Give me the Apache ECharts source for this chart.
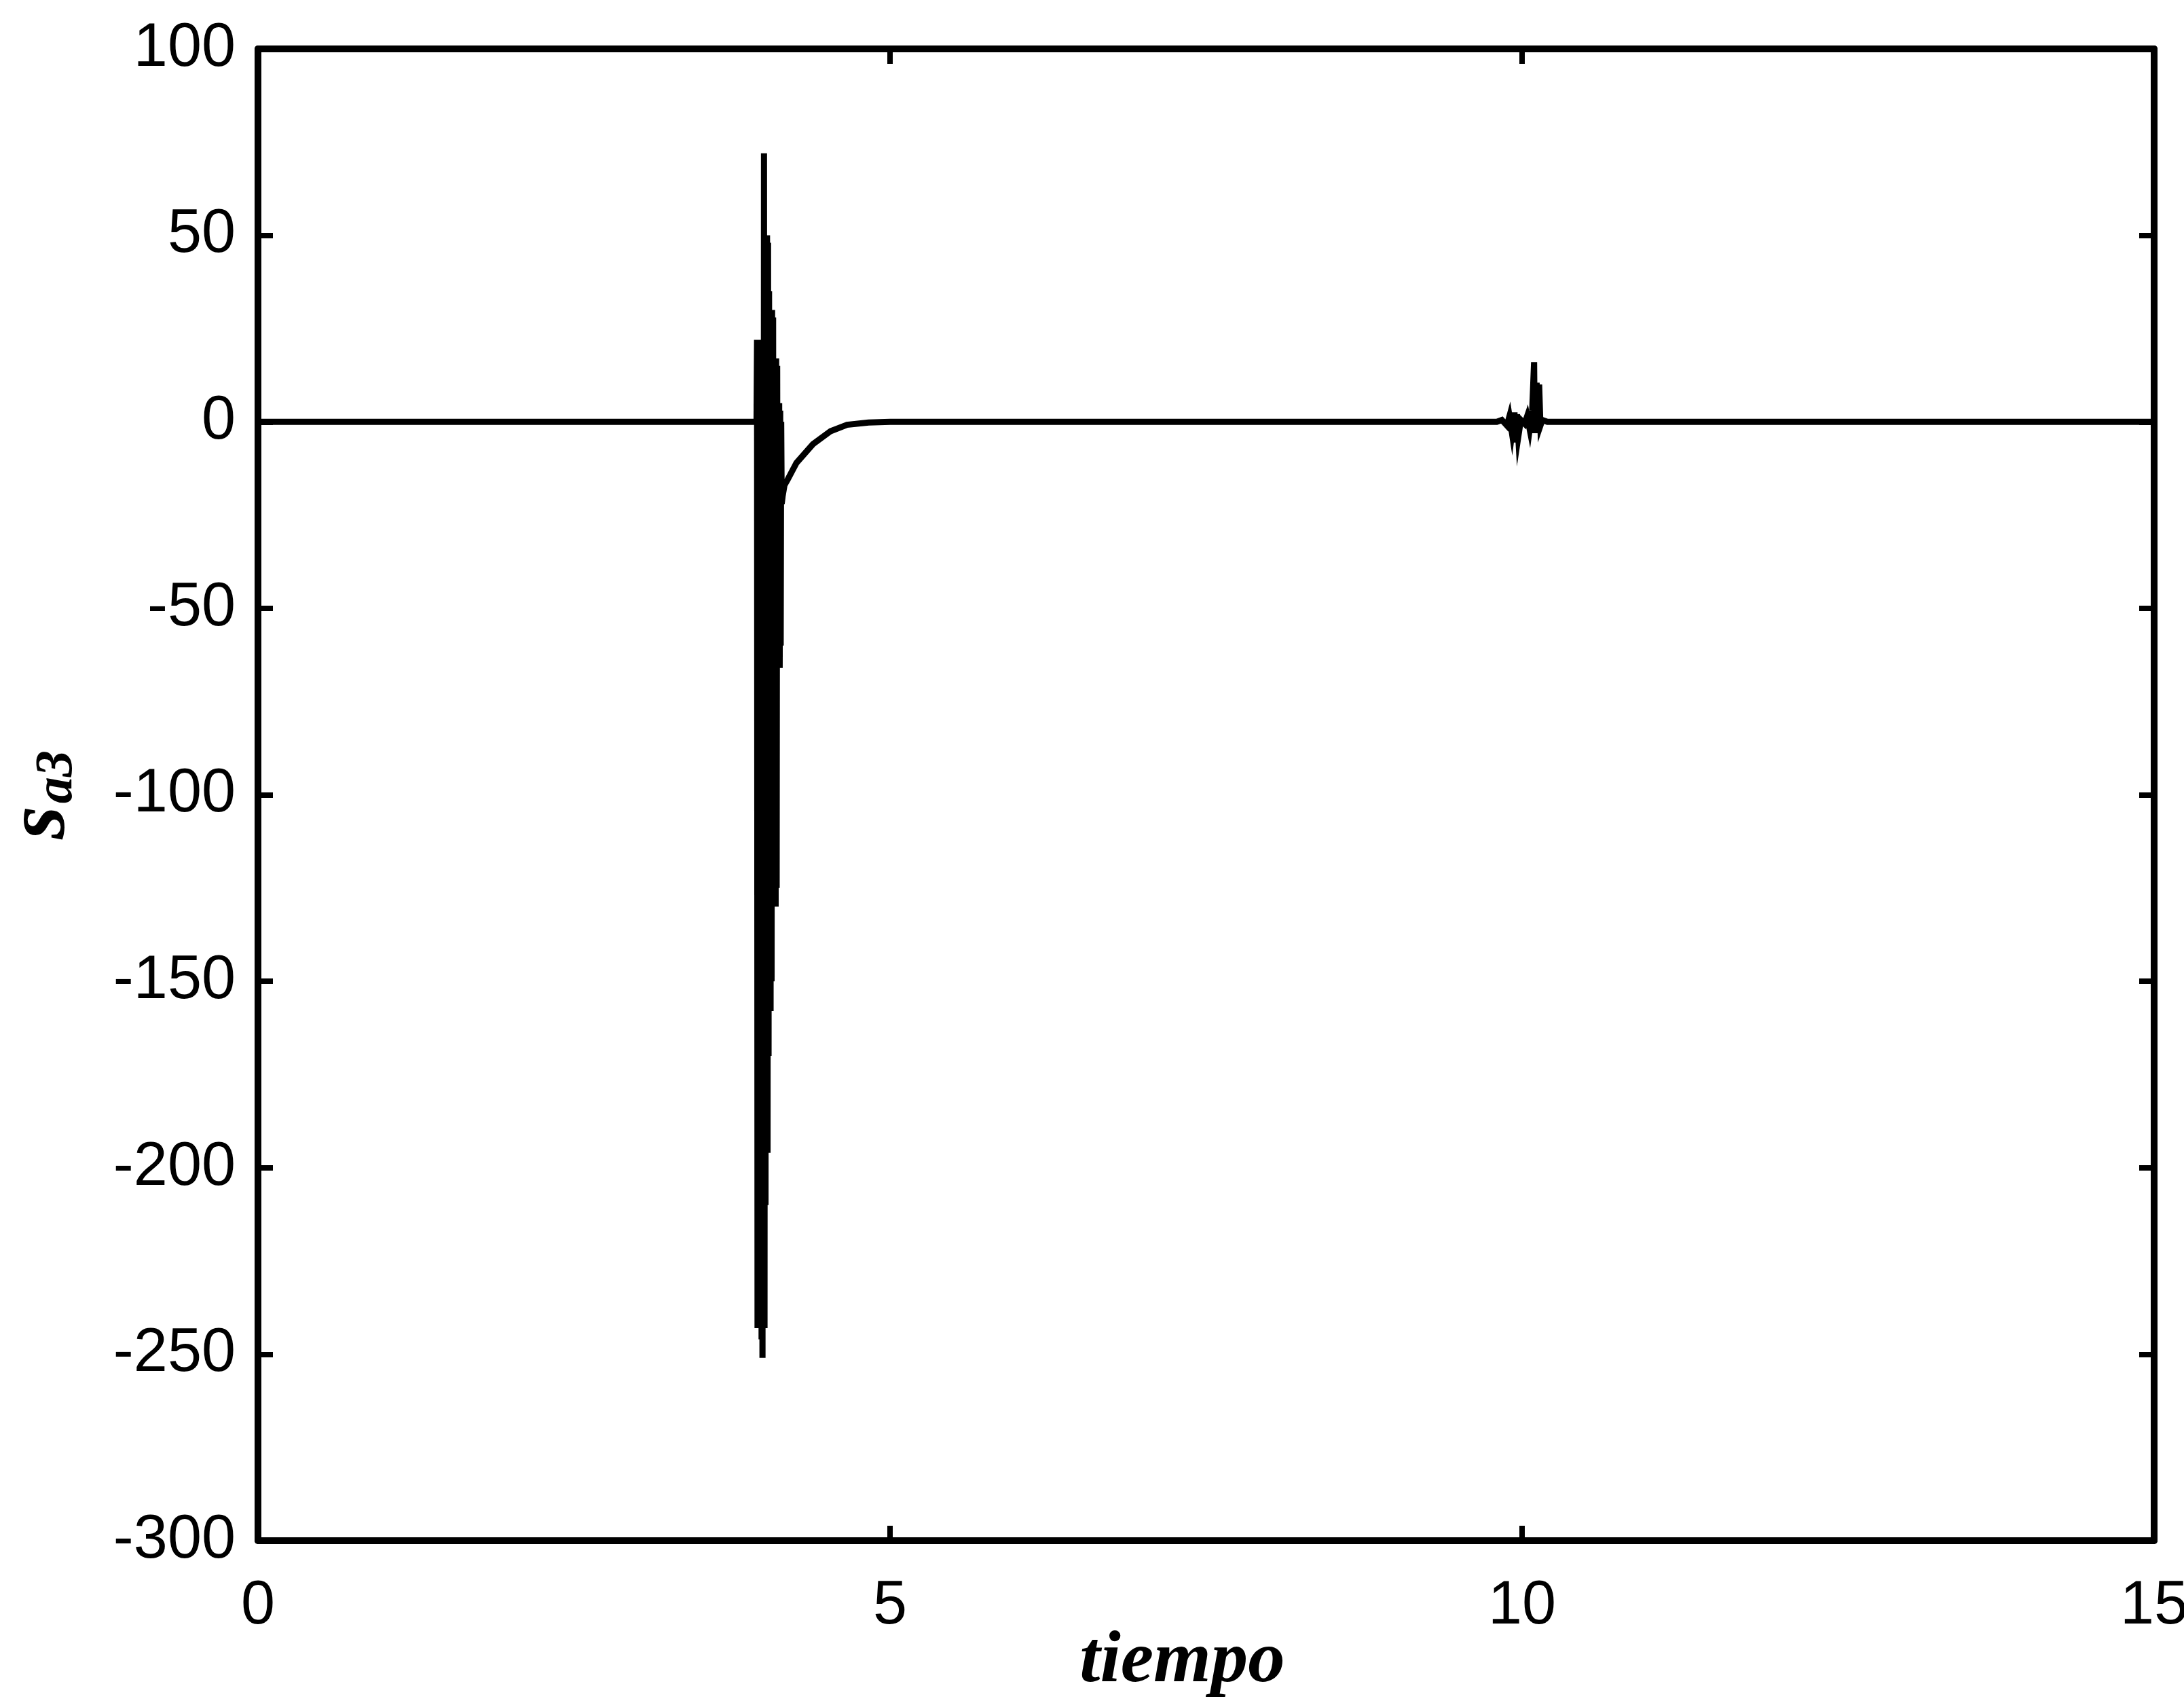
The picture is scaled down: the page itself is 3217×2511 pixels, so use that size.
<!DOCTYPE html>
<html>
<head>
<meta charset="utf-8">
<title>s_a3 vs tiempo</title>
<script src="https://cdn.jsdelivr.net/npm/echarts@6/dist/echarts.min.js"></script>
<style>
  html, body { margin: 0; padding: 0; background: #ffffff; }
  #chart { width: 3217px; height: 2511px; }
</style>
</head>
<body>
<div id="chart"></div>
<script>
// Sliding surface s_a3 against time: flat until the switching burst near t = 4,
// an exponential recovery to zero, and a small disturbance near t = 10.
const tiempo = [
  0, 3.944,
  3.948, 3.952, 3.956, 3.960, 3.964, 3.968, 3.972, 3.976, 3.980, 3.984,
  3.988, 3.991, 3.995, 3.999, 4.003, 4.007, 4.011, 4.015, 4.019, 4.023,
  4.027, 4.031, 4.035, 4.039, 4.043, 4.047, 4.051, 4.055, 4.059, 4.063,
  4.067, 4.071, 4.075, 4.079, 4.083, 4.087, 4.091, 4.095, 4.099, 4.103,
  4.107, 4.111, 4.115, 4.119, 4.123, 4.127, 4.131, 4.135, 4.139, 4.143,
  4.150, 4.165, 4.19, 4.26, 4.39, 4.53, 4.66, 4.83, 5.0,
  9.80, 9.84, 9.88, 9.90, 9.92, 9.94, 9.95, 9.96, 9.97, 9.99,
  10.02, 10.04, 10.06, 10.08, 10.095, 10.10, 10.115, 10.125, 10.135, 10.145,
  10.16, 10.20, 15
];
const sa3 = [
  0, 0,
  22, -243, 22, -243, 22, -243, 22, -243, 22, -246,
  22, -251, 22, -243, 72, -243, 50, -210, 50, -196,
  50, -196, 48, -170, 35, -158, 30, -158, 30, -150,
  30, -130, 28, -130, 17, -130, 17, -130, 17, -125,
  15, -66, 5, -66, 5, -66, 3, -60, 0, -22,
  -20, -17, -15.5, -11, -6, -2.5, -0.8, -0.2, 0,
  0, 0.5, -1, 1.5, -3, 2.5, -5.5, 2, -4, 0.5,
  -0.5, 1.5, -2, 3, 16, -3, 10.5, -3, 10, -1,
  0.5, 0, 0
];
const xTicks = { min: 0, max: 15, interval: 5 };
const yTicks = { min: -300, max: 100, interval: 50 };

const points = tiempo.map((t, i) => [t, sa3[i]]);

const chart = echarts.init(document.getElementById('chart'), null, { renderer: 'canvas' });

const axisFont = { fontFamily: 'Liberation Sans, Arial, sans-serif', fontSize: 90, color: '#000' };
const nameFont = { fontFamily: 'Liberation Serif, Times New Roman, serif', fontStyle: 'italic', fontWeight: 'bold', color: '#000' };
const lineBlack = { color: '#000', width: 10 };
const tickStyle = { show: true, inside: true, length: 22, lineStyle: { color: '#000', width: 8 } };

chart.setOption({
  animation: false,
  backgroundColor: '#ffffff',
  grid: { left: 380, right: 44, top: 72, bottom: 242, containLabel: false, outerBoundsMode: 'none' },
  xAxis: [
    {
      type: 'value', position: 'bottom',
      min: xTicks.min, max: xTicks.max, interval: xTicks.interval,
      axisLine: { show: true, onZero: false, lineStyle: lineBlack },
      axisTick: tickStyle,
      axisLabel: Object.assign({ margin: 52 }, axisFont),
      splitLine: { show: false },
      name: 'tiempo', nameLocation: 'middle', nameGap: 124, nameMoveOverlap: false,
      nameTextStyle: Object.assign({ fontSize: 109, padding: [0, 70, 0, 0] }, nameFont)
    },
    {
      type: 'value', position: 'top',
      min: xTicks.min, max: xTicks.max, interval: xTicks.interval,
      axisLine: { show: true, onZero: false, lineStyle: lineBlack },
      axisTick: tickStyle,
      axisLabel: { show: false },
      splitLine: { show: false }
    }
  ],
  yAxis: [
    {
      type: 'value', position: 'left',
      min: yTicks.min, max: yTicks.max, interval: yTicks.interval,
      axisLine: { show: true, onZero: false, lineStyle: lineBlack },
      axisTick: tickStyle,
      axisLabel: Object.assign({ margin: 33 }, axisFont),
      splitLine: { show: false },
      name: '{s|s}{sub|a3}', nameLocation: 'middle', nameGap: 256, nameRotate: 90, nameMoveOverlap: false,
      nameTextStyle: {
        rich: {
          s: Object.assign({ fontSize: 125, verticalAlign: 'bottom', lineHeight: 130 }, nameFont),
          sub: Object.assign({ fontSize: 78, verticalAlign: 'bottom', lineHeight: 100, padding: [0, 0, 0, 4] }, nameFont)
        }
      }
    },
    {
      type: 'value', position: 'right',
      min: yTicks.min, max: yTicks.max, interval: yTicks.interval,
      axisLine: { show: true, onZero: false, lineStyle: lineBlack },
      axisTick: tickStyle,
      axisLabel: { show: false },
      splitLine: { show: false }
    }
  ],
  series: [
    {
      type: 'line',
      xAxisIndex: 0, yAxisIndex: 0,
      data: points,
      showSymbol: false,
      symbol: 'none',
      sampling: null,
      lineStyle: { color: '#000', width: 9, join: 'miter', cap: 'butt' },
      z: 3
    }
  ]
});
</script>
</body>
</html>
